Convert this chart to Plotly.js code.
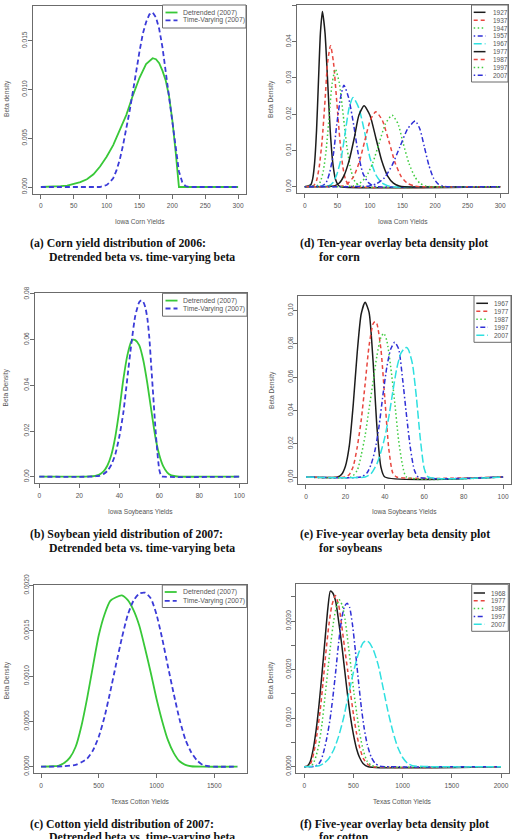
<!DOCTYPE html>
<html>
<head>
<meta charset="utf-8">
<script src="https://cdn.plot.ly/plotly-3.0.1.min.js"></script>
<style>
  html, body { margin: 0; padding: 0; background: #ffffff; }
  #chart { width: 512px; height: 839px; }
</style>
</head>
<body>
<div id="chart"></div>
<script>
// ---------- (a) Iowa corn, 2007: detrended vs time-varying beta ----------
const cornDetX = [0, 10, 20, 30, 40, 50, 60, 70, 80, 90, 100, 110, 120, 130, 140, 150, 160, 170, 175, 180, 185, 190, 195, 200, 205, 208, 210, 220, 300];
const cornDetY = [0, 0.00001, 0.00003, 0.00008, 0.00015, 0.0003, 0.0005, 0.0008, 0.0013, 0.0021, 0.0031, 0.0043, 0.0058, 0.0074, 0.0094, 0.0112, 0.0126, 0.0132, 0.0131, 0.0127, 0.0119, 0.0109, 0.0093, 0.0068, 0.0036, 0.0015, 0, 0, 0];
const cornTvX = [0, 90, 95, 100, 105, 110, 115, 120, 125, 130, 135, 140, 145, 150, 155, 160, 165, 170, 175, 180, 185, 190, 195, 200, 205, 210, 215, 220, 225, 300];
const cornTvY = [0, 0, 0.0001, 0.0002, 0.0005, 0.0009, 0.0017, 0.0028, 0.0043, 0.006, 0.0078, 0.0098, 0.012, 0.0139, 0.0157, 0.0169, 0.0177, 0.0179, 0.0174, 0.0162, 0.0143, 0.0117, 0.009, 0.0063, 0.0037, 0.0016, 0.0005, 0.0001, 0, 0];

// ---------- (b) Iowa soybeans, 2007 ----------
const soyDetX = [0, 20, 25, 28, 30, 32, 34, 36, 38, 40, 42, 44, 46, 47, 48, 50, 52, 54, 56, 58, 60, 62, 64, 66, 68, 70, 80, 100];
const soyDetY = [0, 0, 0.0001, 0.0004, 0.0009, 0.0022, 0.0048, 0.0095, 0.0175, 0.029, 0.0425, 0.053, 0.0592, 0.060, 0.0598, 0.0575, 0.051, 0.041, 0.029, 0.0175, 0.0095, 0.0045, 0.0018, 0.0006, 0.0002, 0, 0, 0];
const soyTvX = [0, 25, 28, 30, 32, 34, 36, 38, 40, 42, 44, 46, 48, 50, 51, 52, 53, 54, 55, 56, 57, 58, 59, 60, 61, 62, 100];
const soyTvY = [0, 0, 0.0002, 0.0004, 0.0011, 0.0025, 0.0052, 0.0098, 0.0175, 0.0279, 0.043, 0.058, 0.0705, 0.0765, 0.0772, 0.0765, 0.0742, 0.0695, 0.061, 0.048, 0.035, 0.022, 0.011, 0.003, 0.0003, 0, 0];

// ---------- (c) Texas cotton, 2007 ----------
const cottonDetX = [0, 100, 150, 200, 250, 300, 350, 400, 450, 500, 550, 600, 650, 700, 750, 800, 850, 900, 950, 1000, 1050, 1100, 1150, 1200, 1250, 1300, 1400, 1700];
const cottonDetY = [0, 0.000005, 0.00001, 0.00004, 0.0001, 0.00022, 0.00045, 0.00076, 0.00111, 0.00145, 0.00168, 0.00183, 0.00187, 0.00189, 0.00184, 0.00173, 0.00156, 0.00131, 0.00104, 0.00075, 0.0005, 0.00029, 0.00015, 0.00006, 0.00002, 0.000005, 0, 0];
const cottonTvX = [0, 200, 300, 350, 400, 450, 500, 550, 600, 650, 700, 750, 800, 850, 900, 950, 1000, 1050, 1100, 1150, 1200, 1250, 1300, 1350, 1400, 1450, 1500, 1700];
const cottonTvY = [0, 0.000005, 0.00002, 0.00005, 0.00009, 0.00018, 0.00033, 0.00055, 0.00083, 0.00113, 0.00142, 0.00167, 0.00183, 0.00191, 0.00192, 0.00186, 0.00168, 0.00141, 0.0011, 0.0008, 0.00052, 0.0003, 0.00016, 0.00007, 0.00002, 0.000005, 0, 0];

// ---------- (d) Iowa corn, ten-year overlay ----------
const cornYears = ['1927', '1937', '1947', '1957', '1967', '1977', '1987', '1997', '2007'];
const corn1927X = [0, 9, 12, 15, 18, 21, 24, 27, 31, 35, 39, 43, 47, 51, 55, 300];
const corn1927Y = [0, 0.0005, 0.0021, 0.0065, 0.0155, 0.0293, 0.0425, 0.0483, 0.0425, 0.0293, 0.0155, 0.0065, 0.0021, 0.0005, 0, 0];
const corn1937X = [0, 14, 18, 22, 26.5, 31, 35, 39.5, 44, 49, 54, 58.5, 63, 68, 73, 300];
const corn1937Y = [0, 0.0004, 0.0017, 0.0053, 0.0126, 0.0236, 0.0343, 0.0389, 0.0343, 0.0236, 0.0126, 0.0053, 0.0017, 0.0004, 0, 0];
const corn1947X = [0, 20, 24, 28.5, 33, 37.5, 42, 47, 53, 59, 65, 71, 77, 83, 89, 300];
const corn1947Y = [0, 0.0004, 0.0014, 0.0044, 0.0105, 0.0197, 0.0286, 0.0324, 0.0286, 0.0197, 0.0105, 0.0044, 0.0014, 0.0004, 0, 0];
const corn1957X = [0, 27, 33, 38, 44, 49, 55, 60, 67, 75, 82, 89, 97, 104, 111, 300];
const corn1957Y = [0, 0.0003, 0.0012, 0.0038, 0.0091, 0.0171, 0.0247, 0.0280, 0.0247, 0.0171, 0.0091, 0.0038, 0.0012, 0.0003, 0, 0];
const corn1967X = [0, 37, 43, 49, 56, 62, 68, 74, 83, 92, 100, 109, 118, 127, 135, 300];
const corn1967Y = [0, 0.0003, 0.0011, 0.0033, 0.0080, 0.0149, 0.0217, 0.0246, 0.0217, 0.0149, 0.0080, 0.0033, 0.0011, 0.0003, 0, 0];
const corn1977X = [0, 45, 53, 60, 68, 76, 83, 91, 100, 109, 118, 127, 136, 145, 153, 300];
const corn1977Y = [0, 0.0002, 0.0010, 0.0030, 0.0072, 0.0135, 0.0197, 0.0223, 0.0197, 0.0135, 0.0072, 0.0030, 0.0010, 0.0002, 0, 0];
const corn1987X = [0, 58, 66, 75, 83.5, 92, 100.5, 109, 119, 129, 138.5, 148, 158, 168, 176, 300];
const corn1987Y = [0, 0.0002, 0.0009, 0.0028, 0.0067, 0.0126, 0.0183, 0.0207, 0.0183, 0.0126, 0.0067, 0.0028, 0.0009, 0.0002, 0, 0];
const corn1997X = [0, 74, 84, 94, 104, 114, 124, 134, 143, 151, 160, 169, 177, 186, 194, 300];
const corn1997Y = [0, 0.0002, 0.0009, 0.0027, 0.0064, 0.0120, 0.0174, 0.0197, 0.0174, 0.0120, 0.0064, 0.0027, 0.0009, 0.0002, 0, 0];
const corn2007X = [0, 99, 110, 122, 134, 146, 158, 169.5, 176.5, 183.5, 190.5, 197.5, 204.5, 211.5, 218, 300];
const corn2007Y = [0, 0.0002, 0.0008, 0.0024, 0.0059, 0.0110, 0.0160, 0.0181, 0.0160, 0.0110, 0.0059, 0.0024, 0.0008, 0.0002, 0, 0];

// ---------- (e) Iowa soybeans, five-year overlay ----------
const soyYears = ['1967', '1977', '1987', '1997', '2007'];
const soy1967X = [0, 16, 18, 20, 22, 24, 26, 28, 30, 32, 34, 36, 38, 40, 100];
const soy1967Y = [0, 0, 0.0015, 0.0065, 0.019, 0.044, 0.075, 0.098, 0.105, 0.099, 0.070, 0.030, 0.006, 0, 0];
const soy1977X = [0, 20, 22, 24, 26, 28, 30, 32, 34, 35, 36, 38, 40, 42, 44, 46, 100];
const soy1977Y = [0, 0, 0.0015, 0.0065, 0.018, 0.034, 0.056, 0.079, 0.092, 0.0935, 0.092, 0.077, 0.047, 0.017, 0.0025, 0, 0];
const soy1987X = [0, 23, 26, 28, 30, 32, 34, 36, 38, 39.5, 41, 43, 45, 47, 49, 51, 100];
const soy1987Y = [0, 0, 0.004, 0.013, 0.025, 0.041, 0.057, 0.073, 0.084, 0.0864, 0.082, 0.066, 0.045, 0.022, 0.007, 0, 0];
const soy1997X = [0, 28, 31, 33, 35, 37, 39, 41, 43, 45, 47, 49, 51, 53, 55, 57, 100];
const soy1997Y = [0, 0, 0.0025, 0.0075, 0.016, 0.030, 0.049, 0.066, 0.077, 0.081, 0.077, 0.059, 0.037, 0.017, 0.004, 0, 0];
const soy2007X = [0, 30, 33, 36, 38, 40, 42, 44, 46, 48, 50, 51, 52, 54, 56, 58, 60, 62, 100];
const soy2007Y = [0, 0, 0.002, 0.008, 0.015, 0.024, 0.036, 0.051, 0.065, 0.074, 0.0775, 0.0778, 0.0765, 0.068, 0.048, 0.023, 0.005, 0, 0];

// ---------- (f) Texas cotton, five-year overlay ----------
const cottonYears = ['1968', '1977', '1987', '1997', '2007'];
const cotton1968X = [0, 30, 60, 90, 120, 150, 180, 210, 240, 265, 290, 320, 350, 380, 410, 440, 470, 500, 530, 560, 600, 650, 2000];
const cotton1968Y = [0, 0.00001, 0.0001, 0.00035, 0.00075, 0.00128, 0.00192, 0.0026, 0.00327, 0.00362, 0.00358, 0.0034, 0.00299, 0.00253, 0.002, 0.00148, 0.00102, 0.00066, 0.00038, 0.0002, 0.00006, 0, 0];
const cotton1977X = [0, 40, 70, 100, 130, 160, 190, 220, 250, 280, 316, 350, 380, 410, 440, 470, 500, 530, 560, 600, 650, 700, 2000];
const cotton1977Y = [0, 0.00001, 0.00009, 0.00032, 0.00068, 0.00113, 0.00172, 0.00236, 0.00292, 0.00332, 0.00353, 0.00333, 0.00292, 0.00245, 0.002, 0.00152, 0.00108, 0.0007, 0.00042, 0.00017, 0.00004, 0, 0];
const cotton1987X = [0, 60, 90, 120, 150, 180, 210, 240, 270, 300, 330, 356, 385, 415, 445, 475, 505, 535, 565, 600, 640, 680, 730, 2000];
const cotton1987Y = [0, 0.00001, 0.00006, 0.00022, 0.00047, 0.00088, 0.00143, 0.002, 0.00255, 0.00302, 0.00333, 0.00344, 0.00333, 0.00303, 0.00255, 0.00205, 0.00152, 0.00108, 0.00067, 0.00033, 0.00011, 0.00003, 0, 0];
const cotton1997X = [0, 100, 140, 170, 200, 230, 260, 290, 320, 350, 380, 410, 436, 460, 490, 520, 550, 580, 610, 640, 680, 720, 770, 820, 2000];
const cotton1997Y = [0, 0.000005, 0.00004, 0.00013, 0.00033, 0.0006, 0.00095, 0.00142, 0.00197, 0.00257, 0.00305, 0.00331, 0.00337, 0.00329, 0.00293, 0.00238, 0.00178, 0.00122, 0.00078, 0.00046, 0.0002, 0.00007, 0.00001, 0, 0];
const cotton2007X = [0, 100, 150, 200, 250, 300, 350, 400, 450, 500, 550, 600, 630, 660, 700, 750, 800, 850, 900, 950, 1000, 1050, 1100, 2000];
const cotton2007Y = [0, 0.000005, 0.00002, 0.00007, 0.00017, 0.00035, 0.00063, 0.00101, 0.00149, 0.00195, 0.00233, 0.00256, 0.0026, 0.00256, 0.00242, 0.00211, 0.00164, 0.00115, 0.00073, 0.0004, 0.00019, 0.00007, 0.00002, 0];

// ---------- tick labels ----------
const cornXTicks = [0, 50, 100, 150, 200, 250, 300];
const soyXTicks = [0, 20, 40, 60, 80, 100];
const cottonXTicksC = [0, 500, 1000, 1500];
const cottonXTicksF = [0, 500, 1000, 1500, 2000];
const yTicksA = [0, 0.005, 0.010, 0.015];
const yLabelsA = ['0.000', '0.005', '0.010', '0.015'];
const yTicksD = [0, 0.01, 0.02, 0.03, 0.04, 0.05];
const yLabelsD = ['0.00', '0.01', '0.02', '0.03', '0.04', '0.05'];
const yTicksB = [0, 0.02, 0.04, 0.06, 0.08];
const yLabelsB = ['0.00', '0.02', '0.04', '0.06', '0.08'];
const yTicksE = [0, 0.02, 0.04, 0.06, 0.08, 0.10];
const yLabelsE = ['0.00', '0.02', '0.04', '0.06', '0.08', '0.10'];
const yTicksC = [0, 0.0005, 0.0010, 0.0015, 0.0020];
const yLabelsC = ['0.0000', '0.0005', '0.0010', '0.0015', '0.0020'];
const yTicksF = [0, 0.0005, 0.0010, 0.0015, 0.0020, 0.0025, 0.0030, 0.0035];
const yLabelsF = ['0.0000', '', '0.0010', '', '0.0020', '', '0.0030', ''];

const pairNames = ['Detrended (2007)', 'Time-Varying (2007)'];

// ---------- drawing helpers ----------
const W = 512, H = 839;
const fx = p => p / W;
const fy = p => 1 - p / H;

const SANS = 'Liberation Sans, Arial, Helvetica, sans-serif';
const SERIF = 'Liberation Serif, Times New Roman, Times, serif';
const AXIS_COLOR = '#6b6b6b';
const TEXT_COLOR = '#555555';

const pairColors = ['#38c838', '#3b3bd8'];
const pairDashes = ['solid', '5px,3px'];
const overlayColors = ['#1c1c1c', '#e8463f', '#3fcc3f', '#2f2fd6', '#2fe0e0'];
const overlayDashes = ['solid', '4px,3px', '1.5px,2.5px', '1.5px,2.5px,5px,2.5px', '8px,3px'];

// panel frames in pixels: [left, top, right, bottom]
const frames = {
  a: [33, 5.5, 246, 193.5],
  d: [297, 5, 508, 193],
  b: [35, 293.3, 247, 483.3],
  e: [298.3, 295.7, 511, 484],
  c: [34.3, 585, 246.7, 773.3],
  f: [296.4, 584.3, 508.9, 773.3]
};

const traces = [];
const shapes = [];
const annotations = [];

function addCurve(axisN, x, y, color, dash, width, shape) {
  traces.push({
    type: 'scatter', mode: 'lines', x: x, y: y,
    xaxis: 'x' + (axisN === 1 ? '' : axisN), yaxis: 'y' + (axisN === 1 ? '' : axisN),
    line: { color: color, dash: dash, width: width, shape: shape || 'linear', smoothing: 0.6 },
    hoverinfo: 'skip', showlegend: false
  });
}

function axis(frame, horizontal, range, tickvals, ticktext, anchor) {
  const dom = horizontal ? [fx(frame[0]), fx(frame[2])] : [fy(frame[3]), fy(frame[1])];
  return {
    domain: dom, range: range, anchor: anchor, autorange: false,
    tickmode: 'array', tickvals: tickvals, ticktext: ticktext || tickvals.map(String),
    showline: true, mirror: true, linecolor: AXIS_COLOR, linewidth: 1,
    ticks: 'outside', ticklen: 4, tickwidth: 1, tickcolor: AXIS_COLOR,
    showgrid: false, zeroline: false, fixedrange: true,
    tickangle: horizontal ? 0 : -90,
    ticklabelstandoff: horizontal ? 2 : -2,
    tickfont: { family: SANS, size: 6.6, color: TEXT_COLOR }
  };
}

function legendBox(rect, labels, colors, dashes, widths, rowTop, rowStep, lineX, textX, fontSize) {
  shapes.push({ type: 'rect', xref: 'paper', yref: 'paper',
    x0: fx(rect[0]), x1: fx(rect[2]), y0: fy(rect[3]), y1: fy(rect[1]),
    line: { color: AXIS_COLOR, width: 1 }, fillcolor: '#ffffff', layer: 'above' });
  labels.forEach((lab, i) => {
    const yy = rowTop + i * rowStep;
    shapes.push({ type: 'line', xref: 'paper', yref: 'paper',
      x0: fx(lineX[0]), x1: fx(lineX[1]), y0: fy(yy), y1: fy(yy),
      line: { color: colors[i], dash: dashes[i], width: widths }, layer: 'above' });
    annotations.push({ xref: 'paper', yref: 'paper', x: fx(textX), y: fy(yy),
      xanchor: 'left', yanchor: 'middle', showarrow: false, text: lab,
      font: { family: SANS, size: fontSize, color: TEXT_COLOR } });
  });
}

function label(xPix, yPix, text, angle) {
  annotations.push({ xref: 'paper', yref: 'paper', x: fx(xPix), y: fy(yPix),
    xanchor: 'center', yanchor: 'middle', showarrow: false, text: text, textangle: angle || 0,
    font: { family: SANS, size: 6.6, color: TEXT_COLOR } });
}

function caption(xPix, yPix, text) {
  annotations.push({ xref: 'paper', yref: 'paper', x: fx(xPix), y: fy(yPix),
    xanchor: 'left', yanchor: 'middle', showarrow: false, text: '<b>' + text + '</b>',
    font: { family: SERIF, size: 11.8, color: '#111111' } });
}

// (a)
addCurve(1, cornDetX, cornDetY, pairColors[0], pairDashes[0], 1.8);
addCurve(1, cornTvX, cornTvY, pairColors[1], pairDashes[1], 1.8);
// (d)
const cornSeries = [[corn1927X, corn1927Y], [corn1937X, corn1937Y], [corn1947X, corn1947Y], [corn1957X, corn1957Y], [corn1967X, corn1967Y], [corn1977X, corn1977Y], [corn1987X, corn1987Y], [corn1997X, corn1997Y], [corn2007X, corn2007Y]];
cornSeries.forEach((s, i) => addCurve(2, s[0], s[1], overlayColors[i % 5], overlayDashes[i % 5], 1.5, 'spline'));
// (b)
addCurve(3, soyDetX, soyDetY, pairColors[0], pairDashes[0], 1.8, 'spline');
addCurve(3, soyTvX, soyTvY, pairColors[1], pairDashes[1], 1.8, 'spline');
// (e)
const soySeries = [[soy1967X, soy1967Y], [soy1977X, soy1977Y], [soy1987X, soy1987Y], [soy1997X, soy1997Y], [soy2007X, soy2007Y]];
soySeries.forEach((s, i) => addCurve(4, s[0], s[1], overlayColors[i % 5], overlayDashes[i % 5], 1.5, 'spline'));
// (c)
addCurve(5, cottonDetX, cottonDetY, pairColors[0], pairDashes[0], 1.8, 'spline');
addCurve(5, cottonTvX, cottonTvY, pairColors[1], pairDashes[1], 1.8, 'spline');
// (f)
const cottonSeries = [[cotton1968X, cotton1968Y], [cotton1977X, cotton1977Y], [cotton1987X, cotton1987Y], [cotton1997X, cotton1997Y], [cotton2007X, cotton2007Y]];
cottonSeries.forEach((s, i) => addCurve(6, s[0], s[1], overlayColors[i % 5], overlayDashes[i % 5], 1.5, 'spline'));

const cycle = (arr, n) => Array.from({ length: n }, (_, i) => arr[i % arr.length]);

// legends
legendBox([162.5, 5, 246, 28], pairNames, pairColors, pairDashes, 1.8, 12.5, 7.8, [165.5, 177.5], 180.5, 6.9);
legendBox([162.5, 293.3, 247, 316.2], pairNames, pairColors, pairDashes, 1.8, 300.6, 7.9, [165.5, 177.5], 180.5, 6.9);
legendBox([162.3, 585, 246.7, 607.5], pairNames, pairColors, pairDashes, 1.8, 592, 8.8, [164.7, 176.7], 180.5, 6.9);
legendBox([471.5, 5, 508, 82], cornYears, cycle(overlayColors, 9), cycle(overlayDashes, 9), 1.5, 12.3, 7.87, [473.7, 485.5], 490.5, 6.5);
legendBox([474, 295.7, 511, 342.3], soyYears, overlayColors, overlayDashes, 1.5, 303.3, 8.0, [476.3, 488], 491.8, 6.5);
legendBox([471.7, 584.3, 508.3, 631.3], cottonYears, overlayColors, overlayDashes, 1.5, 593, 7.8, [473.7, 485], 489.3, 6.5);

// axis titles
label(139.5, 221, 'Iowa Corn Yields');
label(402.7, 221, 'Iowa Corn Yields');
label(140, 512.3, 'Iowa Soybeans Yields');
label(404.8, 512.3, 'Iowa Soybeans Yields');
label(140, 801.7, 'Texas Cotton Yields');
label(402.5, 801.7, 'Texas Cotton Yields');
label(7, 99, 'Beta density', -90);
label(271, 99, 'Beta Density', -90);
label(5.5, 388, 'Beta Density', -90);
label(272, 390, 'Beta Density', -90);
label(7.3, 680, 'Beta Density', -90);
label(271, 680, 'Beta Density', -90);

// captions
caption(28, 243, '(a) Corn yield distribution of 2006:');
caption(46.7, 257, 'Detrended beta vs. time-varying beta');
caption(297.7, 243, '(d) Ten-year overlay beta density plot');
caption(316.7, 257, 'for corn');
caption(28, 534, '(b) Soybean yield distribution of 2007:');
caption(46.7, 548, 'Detrended beta vs. time-varying beta');
caption(297.7, 534, '(e) Five-year overlay beta density plot');
caption(316.7, 548, 'for soybeans');
caption(28, 824, '(c) Cotton yield distribution of 2007:');
caption(46.7, 837, 'Detrended beta vs. time-varying beta');
caption(297.7, 824, '(f) Five-year overlay beta density plot');
caption(316.7, 837, 'for cotton');

const layout = {
  width: W, height: H,
  margin: { l: 0, r: 0, t: 0, b: 0, pad: 0 },
  paper_bgcolor: '#ffffff', plot_bgcolor: '#ffffff',
  showlegend: false,
  xaxis:  axis(frames.a, true,  [-12, 312], cornXTicks, null, 'y'),
  yaxis:  axis(frames.a, false, [-0.000666, 0.01861], yTicksA, yLabelsA, 'x'),
  xaxis2: axis(frames.d, true,  [-12, 312], cornXTicks, null, 'y2'),
  yaxis2: axis(frames.d, false, [-0.00174, 0.05012], yTicksD, yLabelsD, 'x2'),
  xaxis3: axis(frames.b, true,  [-2.15, 103.85], soyXTicks, null, 'y3'),
  yaxis3: axis(frames.b, false, [-0.00289, 0.0803], yTicksB, yLabelsB, 'x3'),
  xaxis4: axis(frames.e, true,  [-3.9, 104], soyXTicks, null, 'y4'),
  yaxis4: axis(frames.e, false, [-0.00421, 0.1090], yTicksE, yLabelsE, 'x4'),
  xaxis5: axis(frames.c, true,  [-58, 1781], cottonXTicksC, null, 'y5'),
  yaxis5: axis(frames.c, false, [-0.0000728, 0.002005], yTicksC, yLabelsC, 'x5'),
  xaxis6: axis(frames.f, true,  [-80, 2080], cottonXTicksF, null, 'y6'),
  yaxis6: axis(frames.f, false, [-0.000136, 0.00376], yTicksF, yLabelsF, 'x6'),
  shapes: shapes,
  annotations: annotations
};

Plotly.newPlot('chart', traces, layout, { staticPlot: true, displayModeBar: false });
</script>
</body>
</html>
